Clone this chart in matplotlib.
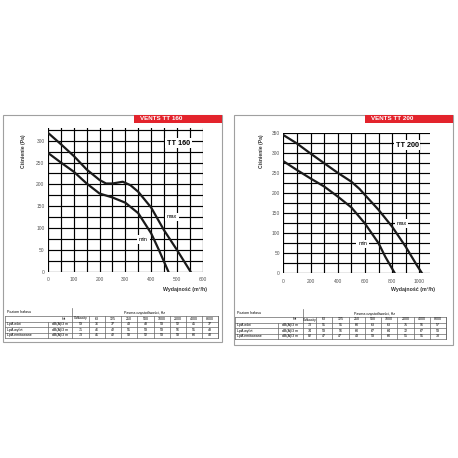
import matplotlib
matplotlib.use("Agg")
import matplotlib.pyplot as plt
from matplotlib.patches import Rectangle

plt.rcParams['font.family'] = ['Liberation Sans', 'DejaVu Sans']

# TT 160 fan curves: flow (m3/h) -> pressure (Pa)
tt160_max_flow = [0, 50, 100, 150, 200, 225, 250, 290, 320, 350, 400, 450, 500, 553]
tt160_max_pa = [318, 292, 265, 234, 210, 202, 202, 206, 198, 183, 147, 95, 50, 0]
tt160_min_flow = [0, 50, 100, 150, 200, 250, 300, 350, 400, 430, 450, 467]
tt160_min_pa = [272, 250, 229, 202, 179, 170, 158, 134, 88, 50, 23, 0]

# TT 200 fan curves
tt200_max_flow = [0, 100, 200, 300, 400, 500, 560, 600, 700, 800, 900, 980, 1020]
tt200_max_pa = [344, 323, 298, 274, 250, 228, 210, 195, 158, 116, 66, 21, 0]
tt200_min_flow = [0, 100, 200, 300, 400, 500, 600, 700, 750, 820]
tt200_min_pa = [279, 257, 236, 216, 191, 164, 124, 75, 41, 0]

# noise tables
bands = ["Całkowity", "63", "125", "250", "500", "1000", "2000", "4000", "8000"]
row_names = ["LpA wlot", "LpA wylot", "LpA emitowane"]
unit = "dB(A)/3 m"
tt160_noise = [[59, 36, 37, 43, 48, 53, 52, 45, 37],
               [71, 46, 42, 51, 53, 53, 56, 51, 48],
               [73, 41, 42, 58, 52, 53, 58, 60, 48]]
tt200_noise = [[73, 51, 51, 60, 63, 63, 75, 56, 57],
               [74, 53, 56, 60, 67, 64, 72, 67, 53],
               [82, 47, 47, 43, 53, 60, 55, 51, 38]]

W = H = 458
fig = plt.figure(figsize=(4.58, 4.58), dpi=100)
bg = fig.add_axes([0, 0, 1, 1])
bg.set_xlim(0, W)
bg.set_ylim(H, 0)
bg.axis('off')

RED = '#e3232c'


def px_axes(x0, y0, x1, y1):
    return fig.add_axes([x0 / W, 1 - y1 / H, (x1 - x0) / W, (y1 - y0) / H])


def draw_panel(box, title):
    x0, y0, x1, y1 = box
    bg.add_patch(Rectangle((x0, y0), x1 - x0, y1 - y0, fill=False,
                           ec='#a0a0a0', lw=0.8))
    bl = x1 - 88
    bg.add_patch(Rectangle((bl, y0), x1 - bl, 7.5, color=RED, lw=0))
    bg.text(bl + 6, y0 + 3.9, title, color='white', fontsize=4.5,
            fontweight='bold', ha='left', va='center')


def draw_chart(box, xmax, ymax, xstep, xlabstep, curves, marks, ylab_x, xlab_pos):
    ax = px_axes(*box)
    ax.set_xlim(0, xmax)
    ax.set_ylim(0, ymax)
    ax.set_xticks(range(0, xmax + 1, xlabstep))
    ax.set_xticks(range(0, xmax + 1, xstep), minor=True)
    ax.set_yticks(range(0, ymax + 1, 50))
    ax.set_yticks(range(0, ymax + 1, 25), minor=True)
    ax.grid(which='both', color='black', lw=0.85)
    ax.tick_params(which='both', length=0, labelsize=3.5, labelcolor='#555')
    ax.tick_params(axis='x', pad=4)
    ax.tick_params(axis='y', pad=2.5)
    for s in ax.spines.values():
        s.set_visible(False)
    for fx, fy in curves:
        ax.plot(fx, fy, color='#1a1a1a', lw=1.6, zorder=3)
    for x, y, s, fs in marks:
        ax.text(x, y, s, fontsize=fs, ha='center', va='center', zorder=4,
                fontweight='bold' if fs > 4.5 else 'normal',
                bbox=dict(fc='white', ec='none', pad=1.2))
    ax.set_axisbelow(True)
    bg.text(ylab_x, 151, 'Ciśnienie (Pa)', rotation=90, fontsize=3.6,
            fontweight='bold', ha='center', va='center', color='#333')
    bg.text(xlab_pos[0], xlab_pos[1], 'Wydajność (m³/h)', fontsize=3.8,
            fontweight='bold', ha='center', va='center', color='#333')


def draw_table(tl, tr, c0, c1, c2, top, values):
    rows = [top, top + 6, top + 11.5, top + 17, top + 22.5]
    cw = (tr - c2) / 8
    kw = dict(color='#666', lw=0.5)
    for r in rows:
        bg.plot([tl, tr], [r, r], **kw)
    bg.plot([tl, tl], [rows[0], rows[-1]], **kw)
    bg.plot([tr, tr], [rows[0], rows[-1]], **kw)
    bg.plot([c1, c1], [top - 8, rows[-1]], **kw)
    bg.plot([c0, c0], [rows[1], rows[-1]], **kw)
    xs = [c2 + i * cw for i in range(9)]
    for x in [c2] + xs[1:]:
        bg.plot([x, x], [rows[0], rows[-1]], **kw)
    cx = [(c1 + c2) / 2] + [c2 + (i + 0.5) * cw for i in range(8)]
    fs = 2.6
    bg.text(tl + 2, top - 3.5, 'Poziom hałasu', fontsize=fs, va='center')
    bg.text((c1 + tr) / 2, top - 2.5, 'Pasma częstotliwości, Hz', fontsize=fs,
            ha='center', va='center')
    bg.text(c1 - 8, top + 3, 'Hz', fontsize=fs, ha='center', va='center')
    for x, b in zip(cx, bands):
        bg.text(x, top + 3, b, fontsize=fs - 0.3 if len(b) > 5 else fs,
                ha='center', va='center')
    for i, (name, vals) in enumerate(zip(row_names, values)):
        yc = (rows[i + 1] + rows[i + 2]) / 2
        bg.text(tl + 2, yc, name, fontsize=fs, va='center')
        bg.text((c0 + c1) / 2, yc, unit, fontsize=fs, ha='center', va='center')
        for x, v in zip(cx, vals):
            bg.text(x, yc, str(v), fontsize=fs, ha='center', va='center')


# left panel: TT 160
draw_panel((3, 115, 222, 342), 'VENTS TT 160')
draw_chart((48, 127.6, 202.7, 271.7), 600, 330, 50, 100,
           [(tt160_max_flow, tt160_max_pa), (tt160_min_flow, tt160_min_pa)],
           [(480, 126, 'max', 4), (370, 74, 'min', 4), (506, 294, 'TT 160', 5.2)],
           24, (185, 289))
draw_table(5, 218, 48, 72, 89, 315.5, tt160_noise)

# right panel: TT 200
draw_panel((234, 115, 453, 345), 'VENTS TT 200')
draw_chart((283.3, 132.6, 430.2, 273.3), 1080, 350, 100, 200,
           [(tt200_max_flow, tt200_max_pa), (tt200_min_flow, tt200_min_pa)],
           [(869, 124, 'max', 4), (583, 73, 'min', 4), (910, 319, 'TT 200', 5.2)],
           261, (413, 289))
draw_table(235, 446, 278, 303, 316, 316.5, tt200_noise)

fig.savefig('out.png', dpi=100)
